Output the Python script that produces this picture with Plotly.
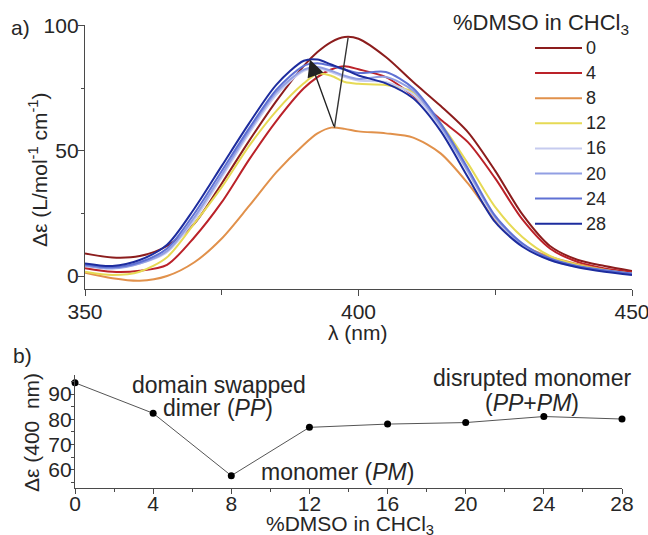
import plotly.graph_objects as go

# ---------------- data ----------------
wavelength = [350, 355, 360, 365, 370, 375, 380, 385, 390, 392.5, 395, 397.5, 400,
              405, 410, 415, 420, 425, 430, 435, 440, 445, 450]

dmso_0 = [9.0, 7.4, 8.0, 12.0, 21.0, 37.0, 54.0, 70.0, 84.0, 89.5, 93.5, 95.5, 94.8,
          87.5, 77.5, 68.0, 57.5, 42.0, 24.5, 12.0, 6.5, 4.0, 2.0]
dmso_4 = [3.1, 1.7, 2.1, 4.5, 15.5, 29.5, 46.5, 62.0, 75.0, 79.5, 82.5, 83.8, 82.6,
          79.5, 72.0, 62.5, 53.5, 39.0, 22.5, 11.0, 5.7, 3.0, 1.5]
dmso_8 = [1.3, -0.9, -1.9, 0.0, 5.5, 15.0, 28.0, 41.5, 52.5, 57.0, 59.3, 58.8, 57.8,
          57.0, 55.3, 49.0, 37.0, 22.5, 12.5, 7.7, 4.8, 2.5, 0.9]
dmso_12 = [1.7, 0.4, 1.7, 7.5, 21.0, 35.5, 52.0, 66.0, 77.0, 80.8, 80.0, 77.5, 76.8,
           76.3, 73.5, 61.0, 45.0, 27.5, 15.5, 8.0, 4.4, 2.4, 1.0]
dmso_16 = [4.5, 3.5, 5.0, 9.5, 22.5, 39.5, 57.0, 72.5, 82.0, 83.0, 81.5, 79.5, 78.1,
           77.5, 72.5, 59.5, 41.5, 23.0, 12.0, 6.5, 3.6, 2.0, 0.8]
dmso_20 = [4.0, 3.0, 5.0, 10.0, 23.5, 40.5, 58.0, 73.5, 82.5, 83.5, 82.0, 80.0, 78.7,
           79.5, 74.0, 60.0, 42.0, 23.5, 12.5, 6.8, 3.8, 2.2, 0.9]
dmso_24 = [4.5, 3.5, 5.5, 11.0, 25.0, 42.0, 59.0, 74.5, 84.0, 85.0, 84.0, 82.5, 81.1,
           81.5, 75.0, 61.0, 43.0, 24.0, 13.0, 7.0, 4.0, 2.3, 1.0]
dmso_28 = [5.0, 4.0, 6.4, 12.5, 27.0, 44.0, 61.0, 76.5, 86.0, 86.5, 84.5, 82.5, 80.1,
           77.0, 71.0, 58.0, 39.5, 21.5, 11.7, 6.4, 3.5, 1.7, 0.4]

series_names = ["0", "4", "8", "12", "16", "20", "24", "28"]
series_values = [dmso_0, dmso_4, dmso_8, dmso_12, dmso_16, dmso_20, dmso_24, dmso_28]
series_colors = ["#8c1d1d", "#bb2229", "#e1914b", "#e6da55",
                 "#c6cbef", "#929fe3", "#5f71d4", "#1d2c9e"]

# panel b
dmso_percent = [0, 4, 8, 12, 16, 20, 24, 28]
de_400 = [94.5, 82.4, 57.6, 76.8, 78.1, 78.7, 81.1, 80.1]

# V-shaped guide: peak of 0 %, peak of 8 %, peak of 28 %
v_top = (398.1, 95.2)
v_bottom = (395.6, 59.3)
v_head = (391.1, 86.5)

# ---------------- layout helpers ----------------
W, H = 648, 535
L, R, T, B = 75, 16, 25, 47
PW, PH = W - L - R, H - T - B


def px(x):
    return (x - L) / PW


def py(y):
    return (H - B - y) / PH


FONT = "Liberation Sans, Arial, sans-serif"
TXT = "#262626"
AX = "#4a4a4a"

fig = go.Figure()

for name, vals, col in zip(series_names, series_values, series_colors):
    fig.add_trace(go.Scatter(
        x=wavelength, y=vals, mode="lines", name=name,
        line=dict(color=col, width=2, shape="spline", smoothing=0.8),
        showlegend=False, xaxis="x", yaxis="y"))

fig.add_trace(go.Scatter(
    x=dmso_percent, y=de_400, mode="lines+markers",
    line=dict(color="#555555", width=1),
    marker=dict(color="black", size=7),
    cliponaxis=False, showlegend=False, xaxis="x2", yaxis="y2"))

axis_common = dict(showline=True, linecolor=AX, linewidth=1.3, ticks="outside",
                   tickcolor=AX, tickwidth=1.2, showgrid=False, zeroline=False,
                   automargin=False, ticklabeloverflow="allow",
                   tickfont=dict(family=FONT, size=21, color=TXT))

fig.update_layout(
    width=W, height=H, autosize=False,
    margin=dict(l=L, r=R, t=T, b=B),
    paper_bgcolor="white", plot_bgcolor="white",
    xaxis=dict(domain=[px(85), 1.0], range=[350, 450], anchor="y",
               tickmode="array", tickvals=[350, 400, 450], ticklen=6,
               ticklabelstandoff=-3,
               minor=dict(dtick=25, tick0=350, ticks="outside", ticklen=5,
                          tickcolor=AX, tickwidth=1.2),
               **axis_common),
    yaxis=dict(domain=[py(289.3), 1.0], range=[-5.3, 100.3], anchor="x",
               tickmode="linear", tick0=0, dtick=50, ticklen=6,
               ticklabelstandoff=-5,
               minor=dict(dtick=25, tick0=0, ticks="outside", ticklen=3,
                          tickcolor=AX, tickwidth=1.2),
               **axis_common),
    xaxis2=dict(domain=[0.0, px(622)], range=[0, 28], anchor="y2",
                tickmode="linear", tick0=0, dtick=4, ticklen=5,
                ticklabelstandoff=-8,
                minor=dict(dtick=2, tick0=0, ticks="outside", ticklen=3,
                           tickcolor=AX, tickwidth=1.2),
                **axis_common),
    yaxis2=dict(domain=[0.0, py(375)], range=[52.7, 97.6], anchor="x2",
                tickmode="linear", tick0=0, dtick=10, ticklen=4,
                ticklabelstandoff=-6,
                minor=dict(dtick=5, tick0=0, ticks="outside", ticklen=3,
                           tickcolor=AX, tickwidth=1.2),
                **axis_common),
)

ann = []


def text(x, y, s, size=21, xanchor="center", angle=0):
    ann.append(dict(x=px(x), y=py(y), xref="paper", yref="paper", text=s,
                    showarrow=False, xanchor=xanchor, yanchor="middle",
                    textangle=angle, font=dict(family=FONT, size=size, color=TXT)))


text(9, 27, "a)", xanchor="left")
text(11, 355, "b)", xanchor="left")
text(38, 170, "Δε (L/mol<sup>-1</sup> cm<sup>-1</sup>)", angle=-90)
text(31, 433, "Δε (400\u00a0 nm)", angle=-90)
text(358, 332, "λ (nm)")
text(350, 525, "%DMSO in CHCl<sub>3</sub>")

# panel b labels
text(219, 385, "domain swapped", size=23)
text(218, 408, "dimer (<i>PP</i>)", size=23)
text(337, 472, "monomer (<i>PM</i>)", size=23)
text(532, 378, "disrupted monomer", size=23)
text(532, 403, "(<i>PP</i>+<i>PM</i>)", size=23)

# manual legend
text(451, 24, "%DMSO in CHCl<sub>3</sub>", size=22, xanchor="left")
shapes = []
for i, (name, col) in enumerate(zip(series_names, series_colors)):
    yy = 48 + 25.1 * i
    shapes.append(dict(type="line", xref="paper", yref="paper",
                       x0=px(535), x1=px(582), y0=py(yy), y1=py(yy),
                       line=dict(color=col, width=2)))
    text(584, yy, name, size=18, xanchor="left")

# V-shaped arrow in panel a
shapes.append(dict(type="line", xref="x", yref="y",
                   x0=v_top[0], y0=v_top[1], x1=v_bottom[0], y1=v_bottom[1],
                   line=dict(color="#333333", width=1.4)))
ann.append(dict(x=v_head[0], y=v_head[1], ax=v_bottom[0], ay=v_bottom[1],
                xref="x", yref="y", axref="x", ayref="y", text="",
                showarrow=True, arrowhead=2, arrowsize=2.4, arrowwidth=1.4,
                arrowcolor="#222222"))

fig.update_layout(annotations=ann, shapes=shapes)

fig.write_html("out.html", config={"displayModeBar": False},
               post_script="document.body.style.margin='0px';document.body.style.overflow='hidden';")
